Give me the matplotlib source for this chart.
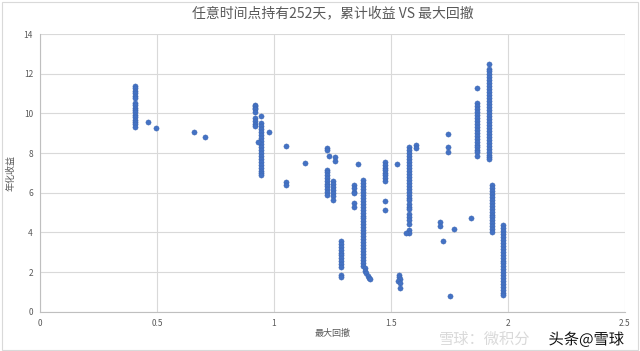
import matplotlib
matplotlib.use("Agg")
import matplotlib.pyplot as plt
import matplotlib.patheffects as pe
from matplotlib.patches import Rectangle
import numpy as np

plt.rcParams['font.family'] = ['Noto Sans CJK SC', 'DejaVu Sans']

# dense vertical clusters: one drawdown value, many returns
col_041 = [11.38, 11.26, 11.14, 11.02, 10.90, 10.78, 10.53, 10.41, 10.29, 10.17,
           10.05, 9.93, 9.81, 9.69, 9.57, 9.45, 9.30]
col_092 = [10.44, 10.36, 10.28, 10.20, 10.08, 9.75, 9.60, 9.45, 9.38]
col_095 = [9.85, 9.50, 9.35, 9.20, 9.05, 8.90, 8.75, 8.60, 8.45, 8.30, 8.15, 8.00,
           7.85, 7.70, 7.55, 7.40, 7.25, 7.10, 6.97, 6.87]
col_123 = [7.16, 7.02, 6.88, 6.74, 6.60, 6.46, 6.32, 6.18, 6.04, 5.89]
col_125 = [6.57, 6.43, 6.29, 6.15, 6.00, 5.85, 5.64]
col_129 = [3.54, 3.40, 3.26, 3.12, 2.98, 2.84, 2.70, 2.56, 2.42, 2.27, 1.85, 1.74]
col_134 = [6.40, 6.23, 6.06, 5.98, 5.47, 5.30]
col_138 = [6.65, 6.50, 6.35, 6.20, 6.05, 5.90, 5.75, 5.60, 5.45, 5.30, 5.15, 5.00,
           4.85, 4.70, 4.55, 4.40, 4.25, 4.10, 3.95, 3.80, 3.65, 3.50, 3.35, 3.20,
           3.05, 2.90, 2.75, 2.60, 2.45, 2.30]
col_148 = [7.53, 7.40, 7.27, 7.14, 7.01, 6.88, 6.75, 6.57, 5.59, 5.14]
col_158 = [8.30, 8.15, 8.00, 7.85, 7.70, 7.55, 7.40, 7.25, 7.10, 6.95, 6.80, 6.65,
           6.50, 6.35, 6.20, 6.05, 5.90, 5.75, 5.63, 5.45, 5.30, 5.18, 4.95, 4.78,
           4.60, 4.40, 4.10, 3.96]
col_187 = [11.28, 10.53, 10.38, 10.23, 10.08, 9.93, 9.78, 9.63, 9.48, 9.33, 9.18,
           9.03, 8.88, 8.73, 8.58, 8.43, 8.28, 8.13, 8.05, 7.83]
col_192 = [12.51, 12.24, 12.12, 11.97, 11.82, 11.67, 11.52, 11.37, 11.22, 11.07,
           10.92, 10.77, 10.62, 10.47, 10.32, 10.17, 10.02, 9.87, 9.72, 9.57, 9.42,
           9.27, 9.12, 8.97, 8.82, 8.67, 8.52, 8.37, 8.22, 8.07, 7.92, 7.80, 7.71]
col_193 = [6.40, 6.25, 6.10, 5.95, 5.80, 5.65, 5.50, 5.35, 5.20, 5.05, 4.90, 4.75,
           4.60, 4.45, 4.30, 4.15, 4.01]
col_198 = [4.38, 4.23, 4.08, 3.93, 3.78, 3.63, 3.48, 3.33, 3.18, 3.03, 2.88, 2.73,
           2.58, 2.43, 2.28, 2.13, 1.98, 1.83, 1.68, 1.53, 1.38, 1.23, 1.08, 0.95, 0.84]

col_dd = [0.408, 0.919, 0.946, 1.226, 1.252, 1.287, 1.342, 1.381, 1.476, 1.577,
          1.866, 1.918, 1.931, 1.978]
col_ret = [col_041, col_092, col_095, col_123, col_125, col_129, col_134, col_138,
           col_148, col_158, col_187, col_192, col_193, col_198]

# isolated points
iso_dd = [0.462, 0.494, 0.659, 0.706, 0.932, 0.977, 1.05, 1.05, 1.05, 1.132,
          1.228, 1.228, 1.235, 1.259, 1.259, 1.36, 1.39, 1.39, 1.395, 1.40, 1.405,
          1.41, 1.525, 1.533, 1.533, 1.537, 1.53, 1.537, 1.54, 1.565, 1.605, 1.605,
          1.71, 1.71, 1.721, 1.744, 1.744, 1.744, 1.753, 1.768, 1.84]
iso_ret = [9.55, 9.27, 9.04, 8.81, 8.55, 9.07, 8.35, 6.53, 6.41, 7.51,
           8.25, 8.13, 7.83, 7.78, 7.61, 7.47, 2.20, 2.05, 1.95, 1.80, 1.70,
           1.64, 7.44, 1.85, 1.75, 1.65, 1.55, 1.45, 1.18, 3.96, 8.42, 8.25,
           4.50, 4.34, 3.57, 8.94, 8.28, 8.03, 0.78, 4.18, 4.73]

xs = np.concatenate([[d] * len(r) for d, r in zip(col_dd, col_ret)] + [iso_dd])
ys = np.concatenate([np.array(r) for r in col_ret] + [iso_ret])

fig = plt.figure(figsize=(6.4, 3.51), dpi=100)
ax = fig.add_axes([0.0625, 0.112, 0.914, 0.791])

ax.scatter(xs, ys, s=14, color='#4472C4', edgecolors='#3b64ad', linewidths=0.3, zorder=3)

ax.set_xlim(0, 2.5)
ax.set_ylim(0, 14)
ax.set_xticks([0, 0.5, 1, 1.5, 2, 2.5])
ax.set_xticklabels(['0', '0.5', '1', '1.5', '2', '2.5'])
ax.set_yticks(range(0, 15, 2))
ax.grid(True, color='#d9d9d9', linewidth=0.8)
ax.set_axisbelow(True)
for s in ['top', 'right']:
    ax.spines[s].set_visible(False)
for s in ['left', 'bottom']:
    ax.spines[s].set_color('#bfbfbf')
    ax.spines[s].set_linewidth(0.8)
ax.tick_params(length=0, labelsize=6, colors='#595959', pad=5)

ax.set_title('任意时间点持有252天，累计收益 VS 最大回撤', fontsize=10, color='#595959', pad=12)
ax.set_xlabel('最大回撤', fontsize=6.5, color='#595959', labelpad=1)
ax.set_ylabel('年化收益', fontsize=6.5, color='#595959', labelpad=6)

# outer chart border
fig.patches.append(Rectangle((0.003, 0.004), 0.994, 0.99, transform=fig.transFigure,
                             fill=False, edgecolor='#d9d9d9', linewidth=0.8))

# watermark
fig.text(0.685, 0.032, '雪球：微积分', fontsize=11, color='#d0d0d0', alpha=0.8, va='center')
fig.text(0.975, 0.032, '头条@雪球', fontsize=11, color='#111111', ha='right', va='center',
         path_effects=[pe.withStroke(linewidth=2, foreground='white')])

fig.savefig('out.png', dpi=100)
